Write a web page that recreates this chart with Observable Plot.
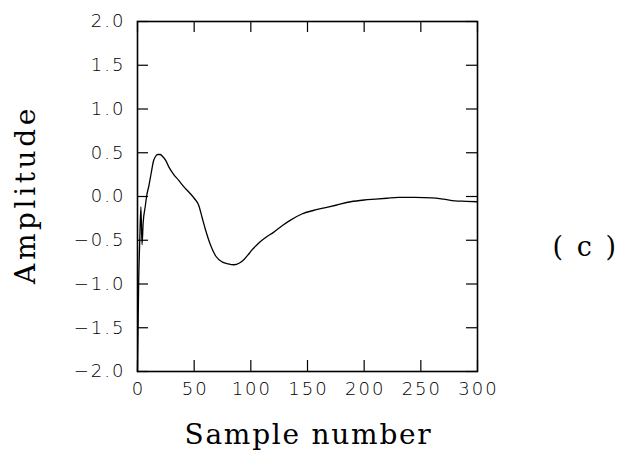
<!DOCTYPE html>
<html>
<head>
<meta charset="utf-8">
<script src="https://cdn.jsdelivr.net/npm/d3@7"></script>
<script src="https://cdn.jsdelivr.net/npm/@observablehq/plot@0.6"></script>
<style>
  html, body { margin: 0; padding: 0; background: #fff; }
  g[aria-label="x-axis tick label"] text, g[aria-label="y-axis tick label"] text { letter-spacing: 2px; }
  text[aria-label="x-title"] { letter-spacing: 1.75px; }
  text[aria-label="y-title"] { letter-spacing: 3.6px; }
  text[aria-label="panel-label"] { letter-spacing: 2.5px; white-space: pre; }
</style>
</head>
<body>
<div id="chart"></div>
<script>
// Data
const sampleNumber = [0, 1, 2, 3, 4, 5, 7, 8, 10, 12, 14, 16, 18, 20, 22, 25, 28, 32, 36, 41, 46, 50, 54, 57, 60, 64, 69, 75, 80, 85, 90, 94, 98, 101, 104, 108, 114, 120, 127, 135, 145, 155, 165, 175, 188, 200, 210, 220, 230, 245, 260, 270, 280, 290, 300];
const amplitude    = [-2.0, -1.0, -0.5, -0.12, -0.55, -0.3, -0.1, 0.0, 0.12, 0.26, 0.40, 0.46, 0.48, 0.48, 0.46, 0.41, 0.33, 0.25, 0.19, 0.11, 0.04, -0.02, -0.10, -0.24, -0.38, -0.54, -0.68, -0.75, -0.77, -0.78, -0.76, -0.72, -0.66, -0.61, -0.57, -0.52, -0.46, -0.41, -0.34, -0.27, -0.20, -0.16, -0.13, -0.10, -0.06, -0.04, -0.03, -0.02, -0.01, -0.01, -0.015, -0.03, -0.05, -0.055, -0.06];
const xTicks = [0, 50, 100, 150, 200, 250, 300];
const yTicks = [-2.0, -1.5, -1.0, -0.5, 0.0, 0.5, 1.0, 1.5, 2.0];
const xTitle = "Sample number";
const yTitle = "Amplitude";
const panelLabel = "( c )";

const data = sampleNumber.map((s, i) => ({s, a: amplitude[i]}));

const W = 624, H = 470;
const mLeft = 137, mRight = 147, mTop = 21, mBottom = 99;
const innerW = W - mLeft - mRight, innerH = H - mTop - mBottom;
const tickLen = 11;
const tickFont = "DejaVu Sans, Liberation Sans, sans-serif";
const titleFont = "DejaVu Serif, Liberation Serif, serif";

const chart = Plot.plot({
  width: W,
  height: H,
  marginLeft: mLeft,
  marginRight: mRight,
  marginTop: mTop,
  marginBottom: mBottom,
  style: {background: "#fff", color: "#000"},
  x: {domain: [0, 300]},
  y: {domain: [-2, 2]},
  marks: [
    Plot.frame({stroke: "#000", strokeWidth: 1.6}),
    // inward ticks on all four sides
    Plot.tickX(xTicks, {x: d => d, insetTop: innerH - tickLen, stroke: "#000", strokeWidth: 1.2}),
    Plot.tickX(xTicks, {x: d => d, insetBottom: innerH - tickLen, stroke: "#000", strokeWidth: 1.2}),
    Plot.tickY(yTicks, {y: d => d, insetRight: innerW - tickLen, stroke: "#000", strokeWidth: 1.2}),
    Plot.tickY(yTicks, {y: d => d, insetLeft: innerW - tickLen, stroke: "#000", strokeWidth: 1.2}),
    Plot.axisX(xTicks, {anchor: "bottom", tickSize: 0, tickPadding: 11, label: null, dx: 1,
      fontSize: 18, fontFamily: tickFont, fontWeight: 300, fill: "#000", tickFormat: d3.format("d")}),
    Plot.axisY(yTicks, {anchor: "left", tickSize: 0, tickPadding: 12, label: null,
      fontSize: 18, fontFamily: tickFont, fontWeight: 300, fill: "#000", tickFormat: d3.format(".1f")}),
    Plot.line(data, {x: "s", y: "a", stroke: "#000", strokeWidth: 1.3, curve: "monotone-x"}),
    Plot.text([xTitle], {text: d => d, frameAnchor: "bottom", dy: 64, dx: 1, lineAnchor: "middle", textAnchor: "middle",
      fontSize: 28, fontFamily: titleFont, fill: "#000", ariaLabel: () => "x-title"}),
    Plot.text([yTitle], {text: d => d, frameAnchor: "left", dx: -111, dy: -2, rotate: -90, lineAnchor: "middle", textAnchor: "middle",
      fontSize: 28, fontFamily: titleFont, fill: "#000", ariaLabel: () => "y-title"}),
    Plot.text([panelLabel], {text: d => d, frameAnchor: "right", dx: 108, dy: 51, lineAnchor: "middle", textAnchor: "middle",
      fontSize: 27, fontFamily: titleFont, fill: "#000", ariaLabel: () => "panel-label"})
  ]
});
document.getElementById("chart").appendChild(chart);
</script>
</body>
</html>
